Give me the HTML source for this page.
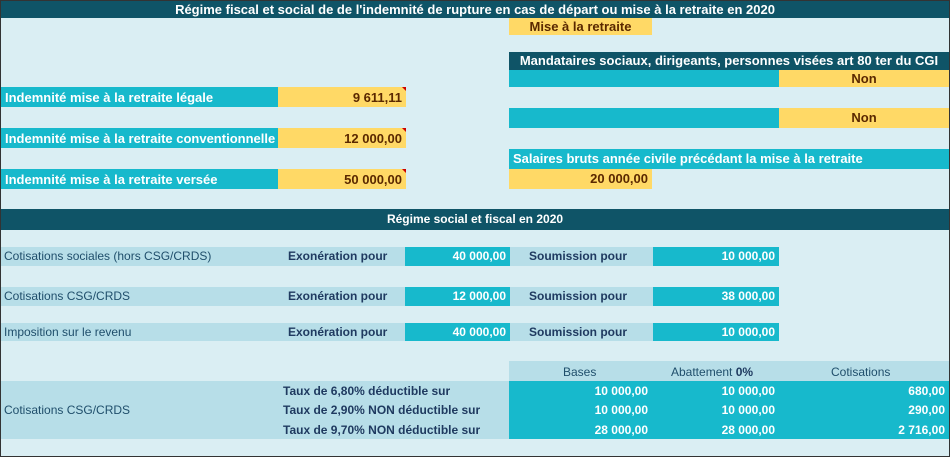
<!DOCTYPE html>
<html><head><meta charset="utf-8"><style>
body{margin:0;width:950px;height:457px;overflow:hidden;font-family:"Liberation Sans",sans-serif}
#root{position:relative;width:948px;height:455px;border:1px solid #333;background:#daeef3}
.c{position:absolute;box-sizing:border-box;font-size:12px;line-height:18px;white-space:nowrap;overflow:hidden}
.top{font-size:13px}
.h{background:#0f5467;color:#fff;font-weight:bold;text-align:center}
.t{background:#17b9cc;color:#fff;font-weight:bold;padding:0 4px}
.y{background:#ffd966;color:#5a2800;font-weight:bold;padding:0 4px}
.r{text-align:right}
.n{font-family:"Liberation Sans Narrow","Liberation Sans",sans-serif;font-stretch:condensed}
.b{background:#b7dee8}
.lab{color:#1f4e6b;padding-left:3px}
.bl{color:#1f3a60;font-weight:bold}
.tri:after{content:"";position:absolute;right:0;top:0;border-top:4px solid #c00;border-left:4px solid transparent}
</style></head><body><div id="root">
<div class="c h top" style="left:0;top:0;width:948px;height:17px;line-height:17px">Régime fiscal et social de de l'indemnité de rupture en cas de départ ou mise à la retraite en 2020</div>
<div class="c y top" style="left:508px;top:17px;width:143px;height:17px;line-height:17px;text-align:center">Mise à la retraite</div>
<div class="c h top" style="left:508px;top:51px;width:440px;height:18px">Mandataires sociaux, dirigeants, personnes visées art 80 ter du CGI</div>
<div class="c t" style="left:508px;top:69px;width:270px;height:17px"></div>
<div class="c y top" style="left:778px;top:69px;width:170px;height:17px;line-height:17px;text-align:center">Non</div>
<div class="c t" style="left:508px;top:107px;width:270px;height:20px"></div>
<div class="c y top" style="left:778px;top:107px;width:170px;height:20px;line-height:20px;text-align:center">Non</div>
<div class="c t top" style="left:508px;top:148px;width:440px;height:20px;line-height:20px">Salaires bruts année civile précédant la mise à la retraite</div>
<div class="c y r top" style="left:508px;top:168px;width:143px;height:20px;line-height:20px">20 000,00</div>

<div class="c t top" style="left:0;top:86px;width:277px;height:20px;line-height:22px">Indemnité mise à la retraite légale</div>
<div class="c y r tri top" style="left:277px;top:86px;width:128px;height:20px;line-height:22px">9 611,11</div>
<div class="c t top" style="left:0;top:127px;width:277px;height:20px;line-height:22px">Indemnité mise à la retraite conventionnelle</div>
<div class="c y r tri top" style="left:277px;top:127px;width:128px;height:20px;line-height:22px">12 000,00</div>
<div class="c t top" style="left:0;top:168px;width:277px;height:20px;line-height:22px">Indemnité mise à la retraite versée</div>
<div class="c y r tri top" style="left:277px;top:168px;width:128px;height:20px;line-height:22px">50 000,00</div>

<div class="c h n" style="left:0;top:208px;width:948px;height:21px;line-height:21px">Régime social et fiscal en 2020</div>

<div class="c b lab n" style="left:0;top:246px;width:652px;height:19px;line-height:19px">Cotisations sociales (hors CSG/CRDS)</div>
<div class="c bl n" style="left:287px;top:246px;width:118px;height:19px;line-height:19px">Exonération pour</div>
<div class="c t r n" style="left:404px;top:246px;width:105px;height:19px;line-height:19px">40 000,00</div>
<div class="c bl n" style="left:528px;top:246px;width:120px;height:19px;line-height:19px">Soumission pour</div>
<div class="c t r n" style="left:652px;top:246px;width:126px;height:19px;line-height:19px">10 000,00</div>

<div class="c b lab n" style="left:0;top:286px;width:652px;height:19px;line-height:19px">Cotisations CSG/CRDS</div>
<div class="c bl n" style="left:287px;top:286px;width:118px;height:19px;line-height:19px">Exonération pour</div>
<div class="c t r n" style="left:404px;top:286px;width:105px;height:19px;line-height:19px">12 000,00</div>
<div class="c bl n" style="left:528px;top:286px;width:120px;height:19px;line-height:19px">Soumission pour</div>
<div class="c t r n" style="left:652px;top:286px;width:126px;height:19px;line-height:19px">38 000,00</div>

<div class="c b lab n" style="left:0;top:322px;width:652px;height:18px;line-height:18px">Imposition sur le revenu</div>
<div class="c bl n" style="left:287px;top:322px;width:118px;height:18px;line-height:18px">Exonération pour</div>
<div class="c t r n" style="left:404px;top:322px;width:105px;height:18px;line-height:18px">40 000,00</div>
<div class="c bl n" style="left:528px;top:322px;width:120px;height:18px;line-height:18px">Soumission pour</div>
<div class="c t r n" style="left:652px;top:322px;width:126px;height:18px;line-height:18px">10 000,00</div>

<div class="c b n" style="left:508px;top:360px;width:440px;height:20px;line-height:22px;color:#1f4e6b">
<span style="position:absolute;left:54px">Bases</span>
<span style="position:absolute;left:162px">Abattement <b style="color:#1f3a60">0%</b></span>
<span style="position:absolute;left:322px">Cotisations</span></div>
<div class="c b lab n" style="left:0;top:380px;width:508px;height:58px;line-height:58px">Cotisations CSG/CRDS</div>
<div class="c t" style="left:508px;top:380px;width:440px;height:58px"></div>
</div>
<script>
const rates=["Taux de 6,80% déductible sur","Taux de 2,90% NON déductible sur","Taux de 9,70% NON déductible sur"];
const bases=["10 000,00","10 000,00","28 000,00"];
const abattements=["10 000,00","10 000,00","28 000,00"];
const cotisations=["680,00","290,00","2 716,00"];
const root=document.getElementById('root');
function cell(txt,l,t,w,cls,al){const d=document.createElement('div');d.className='c n '+cls;d.textContent=txt;d.style.cssText='left:'+l+'px;top:'+t+'px;width:'+w+'px;height:19px;line-height:20px;text-align:'+al;root.appendChild(d);return d;}
rates.forEach((r,i)=>{const t=380+i*19.3;
let a=cell(r,282,t,226,'bl','left');


let b=cell(bases[i],508,t,143,'t','right');b.style.background='transparent';


let c=cell(abattements[i],651,t,127,'t','right');c.style.background='transparent';


let e=cell(cotisations[i],778,t,170,'t','right');e.style.background='transparent';


});
</script></body></html>
